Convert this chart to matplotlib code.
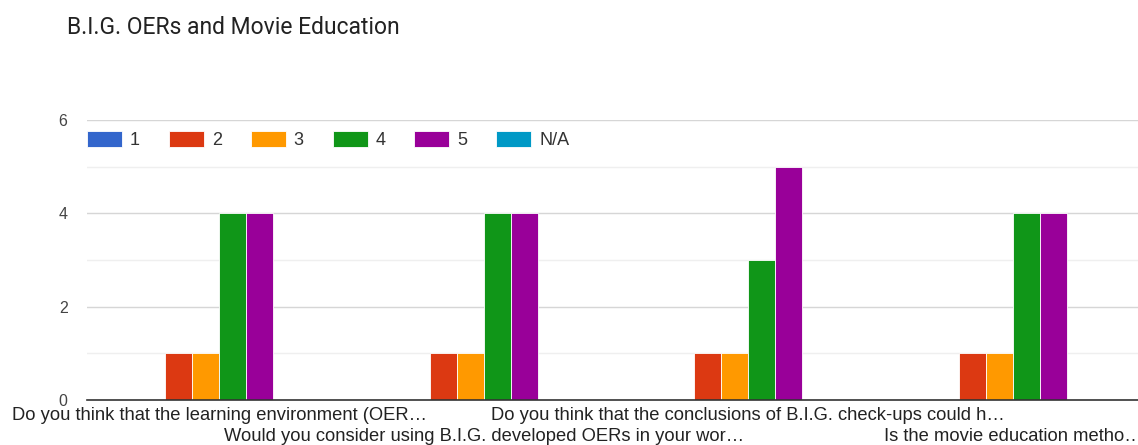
import matplotlib.pyplot as plt
import numpy as np

questions = [
    "Do you think that the learning environment (OER…",
    "Would you consider using B.I.G. developed OERs in your wor…",
    "Do you think that the conclusions of B.I.G. check-ups could h…",
    "Is the movie education metho…",
]
series = ["1", "2", "3", "4", "5", "N/A"]
counts = {
    "1":   [0, 0, 0, 0],
    "2":   [1, 1, 1, 1],
    "3":   [1, 1, 1, 1],
    "4":   [4, 4, 3, 4],
    "5":   [4, 4, 5, 4],
    "N/A": [0, 0, 0, 0],
}
colors = ["#3366CC", "#DC3912", "#FF9900", "#109618", "#990099", "#0099C6"]

plt.rcParams['font.family'] = ['Liberation Sans', 'DejaVu Sans']

W, H = 1138, 445
fig = plt.figure(figsize=(W / 100, H / 100), dpi=100)
ax = fig.add_axes([87 / W, 1 - 400 / H, (W - 87) / W, 280 / H])

x = np.arange(len(questions))
w = 0.102
for i, s in enumerate(series):
    ax.bar(x + (i - 2.5) * w, counts[s], width=w, color=colors[i],
           edgecolor="white", linewidth=0.6, label=s, zorder=3)

ax.set_xlim(-0.5, 3.473)
ax.set_ylim(0, 6)
ax.set_yticks([0, 2, 4, 6])
ax.set_yticks([1, 3, 5], minor=True)
ax.grid(axis="y", which="major", color="#d6d6d6", linewidth=1, zorder=0)
ax.grid(axis="y", which="minor", color="#efefef", linewidth=1, zorder=0)
ax.tick_params(axis="y", which="both", length=0, labelsize=11.5, labelcolor="#444444", pad=14)

# staggered category labels: even ones as major ticks, odd ones as minor ticks further down
ax.set_xticks(x[::2])
ax.set_xticklabels(questions[::2])
ax.set_xticks(x[1::2], minor=True)
ax.set_xticklabels(questions[1::2], minor=True)
ax.tick_params(axis="x", which="both", length=0, labelsize=13.2, labelcolor="#222222")
ax.tick_params(axis="x", which="major", pad=5)
ax.tick_params(axis="x", which="minor", pad=20)

for side in ["top", "right", "left"]:
    ax.spines[side].set_visible(False)
ax.spines["bottom"].set_color("#333333")
ax.spines["bottom"].set_linewidth(1.2)
ax.spines["bottom"].set_zorder(4)

fig.legend(loc="upper left", bbox_to_anchor=(87 / W, 1 - 131 / H), ncol=6,
           frameon=False, fontsize=13, borderpad=0, borderaxespad=0,
           handlelength=1.94, handleheight=0.95,
           handletextpad=0.44, columnspacing=1.6, labelcolor="#333333")

fig.text(67 / W, 1 - 27 / H, "B.I.G. OERs and Movie Education",
         fontsize=16.5, family="Roboto", color="#222222", va="center")

fig.savefig("out.png", dpi=100)
